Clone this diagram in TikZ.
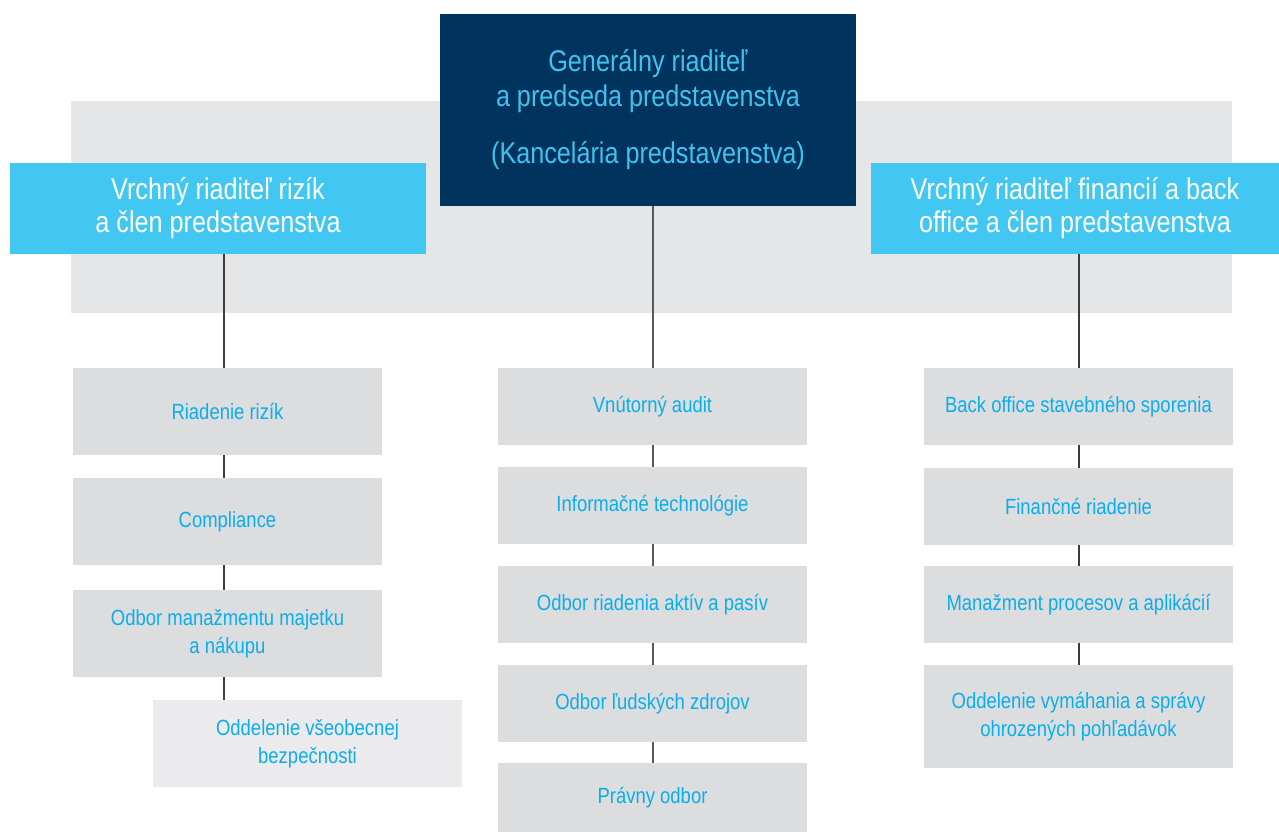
\documentclass[tikz,border=0pt]{standalone}
\usepackage{fontspec}
\setmainfont{Liberation Sans}[FakeStretch=0.84]
\definecolor{navybg}{HTML}{00345F}
\definecolor{cyanbg}{HTML}{42C6F2}
\definecolor{headtxt}{HTML}{3FC2EF}
\definecolor{bandgray}{HTML}{E5E6E8}
\definecolor{boxgray}{HTML}{DCDDDF}
\definecolor{lightgray}{HTML}{EBEBED}
\definecolor{bluetxt}{HTML}{0AAEEA}
\definecolor{linegray}{HTML}{3C3C3C}
\begin{document}
\begin{tikzpicture}[x=1pt,y=-1pt,
  base/.style={inner sep=0pt, outer sep=0pt, align=center},
  navybox/.style={base, fill=navybg, text=headtxt, font=\fontsize{30}{35}\selectfont},
  cyanbox/.style={base, fill=cyanbg, text=white, font=\fontsize{30}{33}\selectfont},
  unitbox/.style={base, fill=boxgray, text=bluetxt, minimum width=309pt, font=\fontsize{22}{28}\selectfont},
  subbox/.style={unitbox, fill=lightgray},
  conn/.style={draw=linegray, line width=2pt}
]
\useasboundingbox (0,0) rectangle (1279,832);
% grey band
\fill[bandgray] (71,101) rectangle (1232,313);

% top level
\node[navybox, minimum width=416pt, minimum height=192pt] (ceo) at (648,110)
  {Generálny riaditeľ\\a predseda predstavenstva\\[22pt](Kancelária predstavenstva)};
\node[cyanbox, minimum width=416pt, minimum height=91pt] (cro) at (218,208.5)
  {Vrchný riaditeľ rizík\\a člen predstavenstva};
\node[cyanbox, minimum width=408pt, minimum height=91pt] (cfo) at (1075,208.5)
  {Vrchný riaditeľ financií a back\\office a člen predstavenstva};

% left column
\node[unitbox, minimum height=87pt] (r1) at (227.5,411.5) {Riadenie rizík};
\node[unitbox, minimum height=87pt] (r2) at (227.5,521.5) {Compliance};
\node[unitbox, minimum height=87pt] (r3) at (227.5,633.5) {Odbor manažmentu majetku\\a nákupu};
\node[subbox, minimum height=87pt] (r4) at (307.5,743.5) {Oddelenie všeobecnej\\bezpečnosti};

% centre column
\node[unitbox, minimum height=77pt] (c1) at (652.5,406.5) {Vnútorný audit};
\node[unitbox, minimum height=77pt] (c2) at (652.5,505.5) {Informačné technológie};
\node[unitbox, minimum height=77pt] (c3) at (652.5,604.5) {Odbor riadenia aktív a pasív};
\node[unitbox, minimum height=77pt] (c4) at (652.5,703.5) {Odbor ľudských zdrojov};
\node[unitbox, minimum height=69pt] (c5) at (652.5,797.5) {Právny odbor};

% right column
\node[unitbox, minimum height=77pt] (f1) at (1078.5,406.5) {Back office stavebného sporenia};
\node[unitbox, minimum height=77pt] (f2) at (1078.5,506.5) {Finančné riadenie};
\node[unitbox, minimum height=77pt] (f3) at (1078.5,604.5) {Manažment procesov a aplikácií};
\node[unitbox, minimum height=103pt] (f4) at (1078.5,716.5) {Oddelenie vymáhania a správy\\ohrozených pohľadávok};

% connectors left
\draw[conn] ([xshift=-3.5pt]r1.north |- cro.south) -- ([xshift=-3.5pt]r1.north);
\draw[conn] ([xshift=-3.5pt]r1.south) -- ([xshift=-3.5pt]r2.north);
\draw[conn] ([xshift=-3.5pt]r2.south) -- ([xshift=-3.5pt]r3.north);
\draw[conn] ([xshift=-3.5pt]r3.south) -- ([xshift=-3.5pt]r3.south |- r4.north);

% connectors centre
\draw[conn, draw=linegray!85] (c1.north |- ceo.south) -- (c1.north);
\draw[conn, draw=linegray!85] (c1.south) -- (c2.north);
\draw[conn, draw=linegray!85] (c2.south) -- (c3.north);
\draw[conn, draw=linegray!85] (c3.south) -- (c4.north);
\draw[conn, draw=linegray!85] (c4.south) -- (c5.north);

% connectors right
\draw[conn] (f1.north |- cfo.south) -- (f1.north);
\draw[conn] (f1.south) -- (f2.north);
\draw[conn] (f2.south) -- (f3.north);
\draw[conn] (f3.south) -- (f4.north);
\end{tikzpicture}
\end{document}
